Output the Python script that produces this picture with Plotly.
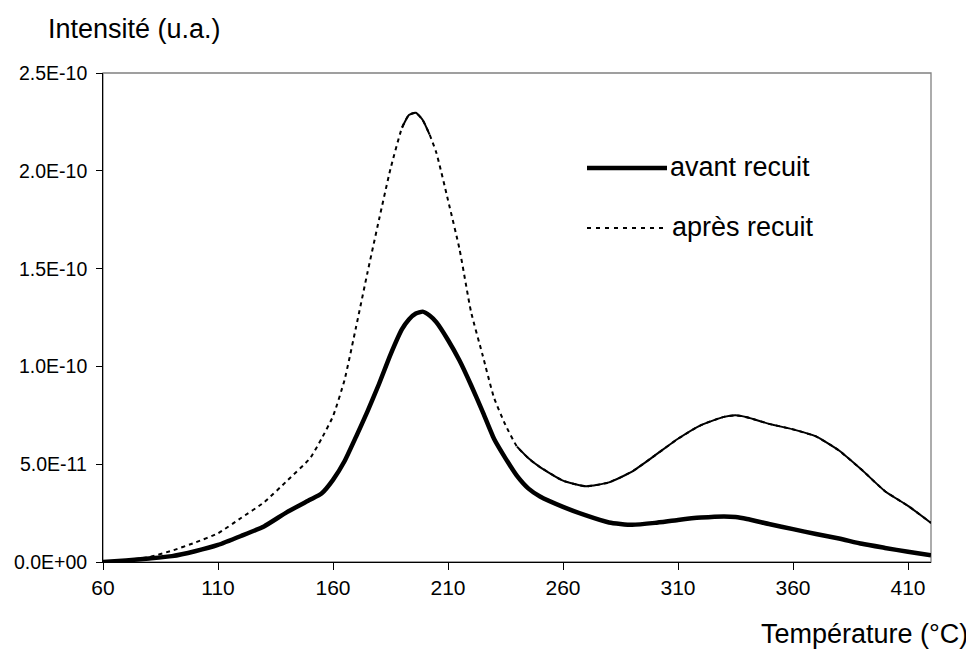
import plotly.graph_objects as go

# ---- data (values in units of 1e-11) ----
temperature = [60, 70, 80, 90, 100, 110, 120, 130, 140, 150, 155, 160, 165, 170, 175,
               180, 185, 190, 193, 196, 199, 202, 205, 210, 215, 220, 225, 230, 235,
               240, 245, 250, 260, 270, 280, 290, 300, 310, 320, 330, 335, 340, 350,
               360, 370, 380, 390, 400, 410, 420]
avant_recuit = [0.0, 0.08, 0.18, 0.30, 0.55, 0.87, 1.33, 1.82, 2.55, 3.18, 3.50, 4.20, 5.15,
                6.40, 7.70, 9.10, 10.60, 11.90, 12.40, 12.70, 12.80, 12.60, 12.25, 11.35,
                10.30, 9.05, 7.70, 6.30, 5.30, 4.40, 3.75, 3.35, 2.82, 2.38, 2.02, 1.90,
                2.00, 2.15, 2.27, 2.33, 2.30, 2.20, 1.93, 1.68, 1.43, 1.20, 0.93, 0.72,
                0.52, 0.34]
apres_recuit = [0.0, 0.10, 0.25, 0.58, 0.99, 1.47, 2.25, 3.05, 4.15, 5.30, 6.30, 7.45, 9.30,
                12.00, 14.80, 17.50, 20.10, 22.20, 22.85, 22.97, 22.60, 21.85, 20.90, 18.50,
                16.00, 12.80, 10.60, 8.40, 7.00, 5.90, 5.30, 4.85, 4.16, 3.87, 4.07, 4.62,
                5.45, 6.30, 7.00, 7.42, 7.50, 7.40, 7.05, 6.78, 6.42, 5.70, 4.70, 3.62,
                2.87, 2.00]
scale = 1e-11

y_tickvals = [0, 5e-11, 1e-10, 1.5e-10, 2e-10, 2.5e-10]
y_ticktext = ["0.0E+00", "5.0E-11", "1.0E-10", "1.5E-10", "2.0E-10", "2.5E-10"]
x_tickvals = [60, 110, 160, 210, 260, 310, 360, 410]

series_names = ["avant recuit", "après recuit"]

# ---- layout constants (pixels, page coordinates; page body has an 8px margin) ----
OFF = 8
W, H = 974 - OFF, 650 - OFF
PL, PR, PT, PB = 103, 931, 73, 562          # plot area edges on the page
ML, MR, MT, MB = PL - OFF, 974 - PR, PT - OFF, 650 - PB
PW, PH = PR - PL, PB - PT
FONT = "Liberation Sans, Arial, sans-serif"


def px_x(px):
    return (px - PL) / PW


def px_y(py):
    return (PB - py) / PH


fig = go.Figure()

av = [v * scale for v in avant_recuit]
ap = [v * scale for v in apres_recuit]

fig.add_trace(go.Scatter(x=temperature, y=ap, mode="lines", name=series_names[1],
                         line=dict(color="black", width=2, dash="4px,4px",
                                   shape="spline", smoothing=0.5),
                         showlegend=False))
# flat parts of the measured curve render as continuous line in the original
mask = [(190 <= t <= 202) or t >= 240 for t in temperature]
seg_x, seg_y = [], []
prev = False
for t, v, m in zip(temperature, ap, mask):
    if m:
        seg_x.append(t)
        seg_y.append(v)
    elif prev:
        seg_x.append(None)
        seg_y.append(None)
    prev = m
fig.add_trace(go.Scatter(x=seg_x, y=seg_y, mode="lines", showlegend=False,
                         line=dict(color="black", width=2, shape="spline", smoothing=0.5),
                         hoverinfo="skip"))
fig.add_trace(go.Scatter(x=temperature, y=av, mode="lines", name=series_names[0],
                         line=dict(color="black", width=4.5, shape="spline", smoothing=0.5),
                         showlegend=False))

shapes = [
    # plot area border (grey)
    dict(type="rect", xref="paper", yref="paper", x0=0, x1=1, y0=0, y1=1,
         line=dict(color="#808080", width=1.3), layer="below"),
    # manual legend lines
    dict(type="line", xref="paper", yref="paper", x0=px_x(587), x1=px_x(667),
         y0=px_y(168), y1=px_y(168), line=dict(color="black", width=4.5)),
    dict(type="line", xref="paper", yref="paper", x0=px_x(587), x1=px_x(668),
         y0=px_y(228), y1=px_y(228), line=dict(color="black", width=2, dash="4px,5px")),
]

annotations = [
    dict(text=series_names[0], xref="paper", yref="paper", x=px_x(668), y=px_y(167),
         xanchor="left", yanchor="middle", showarrow=False,
         font=dict(family=FONT, size=27, color="black")),
    dict(text=series_names[1], xref="paper", yref="paper", x=px_x(670), y=px_y(227),
         xanchor="left", yanchor="middle", showarrow=False,
         font=dict(family=FONT, size=27, color="black")),
    dict(text="Intensité (u.a.)", xref="paper", yref="paper", x=px_x(46), y=px_y(29),
         xanchor="left", yanchor="middle", showarrow=False,
         font=dict(family=FONT, size=27, color="black")),
    dict(text="Température (°C)", xref="paper", yref="paper", x=px_x(970), y=px_y(634),
         xanchor="right", yanchor="middle", showarrow=False,
         font=dict(family=FONT, size=27, color="black")),
]
# y tick labels placed explicitly (right-aligned ~16px left of the axis)
for val, txt in zip(y_tickvals, y_ticktext):
    annotations.append(dict(text=txt, xref="paper", yref="y", x=px_x(88), y=val,
                            xanchor="right", yanchor="middle", showarrow=False,
                            borderpad=0,
                            font=dict(family=FONT, size=19.5, color="black")))

fig.update_layout(
    width=W, height=H,
    margin=dict(l=ML, r=MR, t=MT, b=MB, pad=0, autoexpand=False),
    paper_bgcolor="white", plot_bgcolor="white",
    font=dict(family=FONT, size=21, color="black"),
    shapes=shapes, annotations=annotations,
    showlegend=False,
)
fig.update_xaxes(range=[60, 420], tickvals=x_tickvals, ticks="outside", ticklen=7,
                 tickcolor="black", tickwidth=1.3, showline=True, linecolor="black",
                 linewidth=1.3, showgrid=False, zeroline=False, automargin=False,
                 tickfont=dict(family=FONT, size=21))
fig.update_yaxes(range=[0, 2.5e-10], tickvals=y_tickvals, showticklabels=False,
                 ticks="outside", ticklen=6, tickcolor="black", tickwidth=1.3,
                 showline=True, linecolor="black", linewidth=1.3, showgrid=False,
                 zeroline=False, automargin=False)

fig.write_html("out.html")
